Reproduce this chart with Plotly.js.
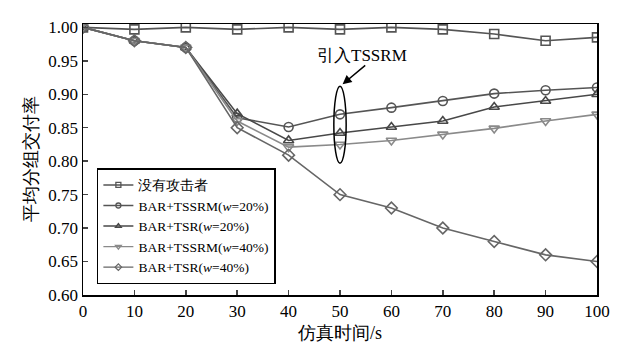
<!DOCTYPE html>
<html><head><meta charset="utf-8">
<script src="https://cdn.plot.ly/plotly-3.0.1.min.js"></script>
<style>body{margin:0;background:#fff}#c{width:621px;height:350px}</style>
</head><body><div id="c"></div>
<script>
const time = [0,10,20,30,40,50,60,70,80,90,100];
const names = ['没有攻击者','BAR+TSSRM(<i>w</i>=20%)','BAR+TSR(<i>w</i>=20%)','BAR+TSSRM(<i>w</i>=40%)','BAR+TSR(<i>w</i>=40%)'];
const noAttack = [1.00,0.997,1.00,0.997,1.00,0.997,1.00,0.997,0.990,0.980,0.985];
const tssrm20 = [1.00,0.98,0.97,0.865,0.851,0.870,0.880,0.890,0.901,0.906,0.910];
const tsr20 = [1.00,0.98,0.97,0.871,0.831,0.842,0.851,0.860,0.881,0.890,0.900];
const tssrm40 = [1.00,0.98,0.97,0.860,0.821,0.825,0.831,0.840,0.849,0.860,0.870];
const tsr40 = [1.00,0.98,0.97,0.850,0.809,0.750,0.730,0.700,0.680,0.660,0.650];
const series = [noAttack, tssrm20, tsr20, tssrm40, tsr40];
const symbols = ['square-open','circle-open','triangle-up-open','triangle-down-open','diamond-open'];
const colors = ['#555555','#555555','#484848','#8a8a8a','#666666'];
const yTicks = [0.60,0.65,0.70,0.75,0.80,0.85,0.90,0.95,1.00];
const xTicks = [0,10,20,30,40,50,60,70,80,90,100];

const font = '"Liberation Serif", "DejaVu Serif", serif';
const traces = series.map((s,i)=>({
  x: time, y: s, name: names[i], type:'scatter', mode:'lines+markers', showlegend:false,
  line:{color:colors[i], width:1.6},
  marker:{symbol:symbols[i], size:9, color:colors[i], line:{width:1.6, color:colors[i]}}
}));
const legendTraces = series.map((s,i)=>({
  x:[-50], y:[0], name: names[i], type:'scatter', mode:'lines+markers', showlegend:true,
  line:{color:colors[i], width:1.4},
  marker:{symbol:symbols[i], size:5, color:colors[i], line:{width:1.3, color:colors[i]}}
}));

const layout = {
  width:621, height:350,
  margin:{l:83, r:24, t:24, b:55},
  paper_bgcolor:'#fff', plot_bgcolor:'#fff',
  font:{family:font, size:17, color:'#000'},
  showlegend:true,
  legend:{x:0.027, y:0.04, xanchor:'left', yanchor:'bottom', bordercolor:'#000', borderwidth:1.5,
    bgcolor:'#fff', font:{size:13.5, family:font}, tracegroupgap:0, itemwidth:30},
  xaxis:{range:[0,100], tickvals:xTicks, ticktext:xTicks.map(String), ticks:'inside', ticklen:5, tickwidth:1.5,
    showline:true, linecolor:'#000', linewidth:1.5, mirror:true, showgrid:false, zeroline:false,
    title:{text:'仿真时间/s', font:{size:18, family:font}, standoff:6}},
  yaxis:{range:[0.60,1.005], tickvals:yTicks, ticktext:yTicks.map(v=>v.toFixed(2)), ticks:'inside', ticklen:5, tickwidth:1.5,
    showline:true, linecolor:'#000', linewidth:1.5, mirror:true, showgrid:false, zeroline:false,
    title:{text:'平均分组交付率', font:{size:18, family:font}, standoff:6}},
  shapes:[{type:'circle', xref:'x', yref:'y', x0:48.8, x1:51.2, y0:0.797, y1:0.912, line:{color:'#000', width:1.5}}],
  annotations:[
    {x:54.3, y:0.958, xref:'x', yref:'y', text:'引入TSSRM', showarrow:false, font:{size:17, family:font}},
    {x:50.5, y:0.915, xref:'x', yref:'y', ax:55.2, ay:0.945, axref:'x', ayref:'y', text:'', showarrow:true,
      arrowhead:2, arrowsize:1.2, arrowwidth:1.5, arrowcolor:'#000'}
  ]
};
Plotly.newPlot('c', traces.concat(legendTraces), layout, {displayModeBar:false, staticPlot:true});
</script></body></html>
